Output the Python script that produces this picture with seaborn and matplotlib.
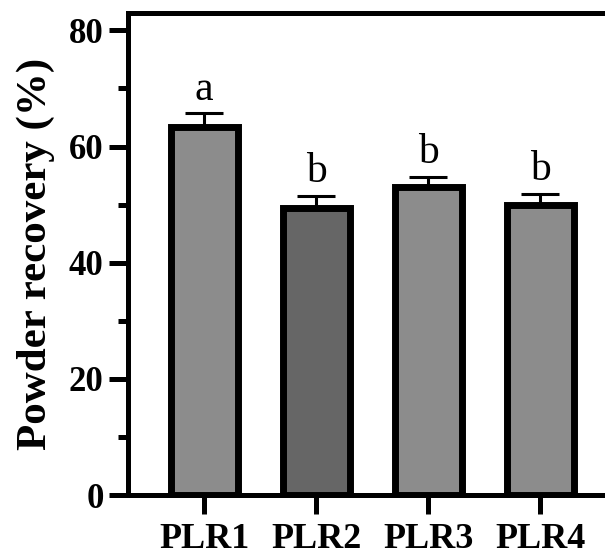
import numpy as np
import pandas as pd
import matplotlib
matplotlib.use("Agg")
import matplotlib.pyplot as plt
import seaborn as sns
from matplotlib.ticker import MultipleLocator

sns.set_style("ticks")
plt.rcParams['font.family'] = ['Liberation Serif', 'DejaVu Serif']
plt.rcParams['axes.edgecolor'] = 'black'
plt.rcParams['text.color'] = 'black'
plt.rcParams['axes.labelcolor'] = 'black'
plt.rcParams['xtick.color'] = 'black'
plt.rcParams['ytick.color'] = 'black'

samples = ['PLR1', 'PLR2', 'PLR3', 'PLR4']
recovery = [63.4, 49.5, 53.0, 49.9]
sd = [2.3, 2.0, 1.7, 1.9]
letters = ['a', 'b', 'b', 'b']
colors = ['#8c8c8c', '#666666', '#8c8c8c', '#8c8c8c']

df = pd.DataFrame({'sample': samples, 'recovery': recovery})

fig = plt.figure(figsize=(6.05, 5.57), dpi=100)
ax = fig.add_axes([0.2116, 0.1113, 0.807, 0.8654])

sns.barplot(data=df, x='sample', y='recovery', hue='sample', palette=colors,
            errorbar=None, width=0.6, edgecolor='black', linewidth=5,
            legend=False, ax=ax, zorder=3)

x = np.arange(len(samples))
ax.errorbar(x, recovery, yerr=[np.zeros(len(sd)), sd], fmt='none',
            ecolor='black', elinewidth=2.2, capsize=13.5, capthick=2.2, zorder=2)

for xi, m, s, lab in zip(x, recovery, sd, letters):
    ax.annotate(lab, (xi, m + s), xytext=(0, 10), textcoords='offset points',
                ha='center', va='baseline', fontsize=30)

ax.set_xlim(-0.68, 3.68)
ax.set_ylim(0, 83)
ax.yaxis.set_major_locator(MultipleLocator(20))
ax.yaxis.set_minor_locator(MultipleLocator(10))

for side in ['left', 'bottom', 'top']:
    ax.spines[side].set_linewidth(3.6)
ax.spines['right'].set_visible(False)

ax.tick_params(axis='y', which='major', length=13.5, width=3.6, pad=4,
               labelsize=25)
ax.tick_params(axis='y', which='minor', length=7, width=3.6)
ax.tick_params(axis='x', length=14, width=3.6, pad=6, labelsize=26)
for t in ax.get_xticklabels() + ax.get_yticklabels():
    t.set_fontweight('bold')

ax.set_xlabel('')
ax.set_ylabel('Powder recovery (%)', fontsize=31, fontweight='bold', labelpad=10)

plt.savefig('out.png', dpi=100)
